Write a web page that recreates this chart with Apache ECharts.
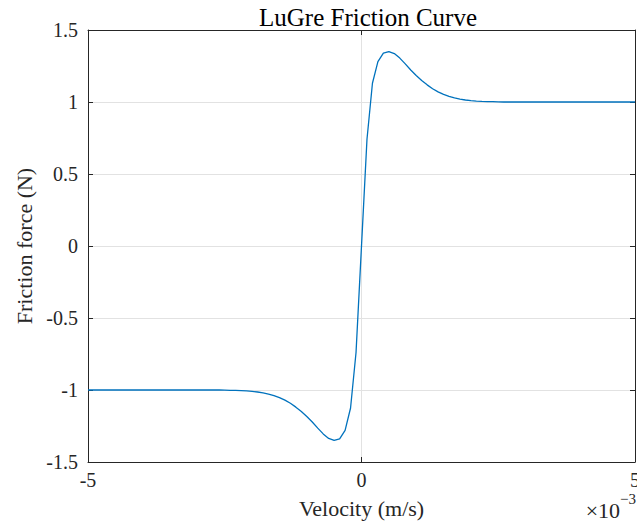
<!DOCTYPE html>
<html><head><meta charset="utf-8">
<script src="https://cdn.jsdelivr.net/npm/echarts@6/dist/echarts.min.js"></script>
<style>html,body{margin:0;padding:0;background:#fff}#c{width:637px;height:527px}</style>
</head><body><div id="c"></div>
<script>
// Velocity in units of 1e-3 m/s
const velocity = [-5,-4.9,-4.8,-4.7,-4.6,-4.5,-4.4,-4.3,-4.2,-4.1,-4,-3.9,-3.8,-3.7,-3.6,-3.5,-3.4,-3.3,-3.2,-3.1,-3,-2.9,-2.8,-2.7,-2.6,
  -2.5,-2.4,-2.3,-2.2,-2.1,-2,-1.9,-1.8,-1.7,-1.6,-1.5,-1.4,-1.3,-1.2,-1.1,-1,-0.9,-0.8,-0.7,-0.6,-0.5,-0.4,-0.3,-0.2,-0.1,
  0,
  0.1,0.2,0.3,0.4,0.5,0.6,0.7,0.8,0.9,1,1.1,1.2,1.3,1.4,1.5,1.6,1.7,1.8,1.9,2,2.1,2.2,2.3,2.4,2.5,
  2.6,2.7,2.8,2.9,3,3.1,3.2,3.3,3.4,3.5,3.6,3.7,3.8,3.9,4,4.1,4.2,4.3,4.4,4.5,4.6,4.7,4.8,4.9,5];
// Friction force (N)
const force = [-1,-1,-1,-1,-1,-1,-1,-1,-1,-1,-1,-1,-1,-1,-1,-1,-1,-1,-1,-1,-1,-1,-1,-1,-1,
  -1.001,-1.002,-1.003,-1.004,-1.006,-1.009,-1.014,-1.020,-1.028,-1.039,-1.053,-1.070,-1.092,-1.119,-1.149,-1.184,-1.222,-1.265,-1.305,-1.336,-1.350,-1.340,-1.280,-1.125,-0.740,
  0,
  0.740,1.130,1.280,1.340,1.350,1.336,1.305,1.265,1.222,1.184,1.149,1.119,1.092,1.070,1.053,1.039,1.028,1.020,1.014,1.009,1.006,1.004,1.003,1.002,1.001,
  1,1,1,1,1,1,1,1,1,1,1,1,1,1,1,1,1,1,1,1,1,1,1,1,1];
const xTickLabels = ['-5', '0', '5'];
const yTickLabels = ['-1.5', '-1', '-0.5', '0', '0.5', '1', '1.5'];

const FONT = 'Liberation Serif';
const AX = '#262626';
const GRID = '#e2e2e2';
const chart = echarts.init(document.getElementById('c'), null, {renderer: 'svg'});
const boxAxisX = (pos) => ({
  type: 'value', position: pos, min: -5, max: 5, interval: 5,
  axisLine: {show: true, onZero: false, lineStyle: {color: AX, width: 1}},
  axisTick: {show: true, inside: true, length: 5, lineStyle: {color: AX}},
  axisLabel: {show: false}, splitLine: {show: false}
});
const boxAxisY = (pos) => ({
  type: 'value', position: pos, min: -1.5, max: 1.5, interval: 0.5,
  axisLine: {show: true, onZero: false, lineStyle: {color: AX, width: 1}},
  axisTick: {show: true, inside: true, length: 5, lineStyle: {color: AX}},
  axisLabel: {show: false}, splitLine: {show: false}
});
const xMain = Object.assign(boxAxisX('bottom'), {
  name: 'Velocity (m/s)', nameLocation: 'middle', nameGap: 35,
  nameTextStyle: {fontFamily: FONT, fontSize: 22, color: AX},
  axisLabel: {show: true, margin: 8, fontFamily: FONT, fontSize: 20, color: AX,
    formatter: (v) => xTickLabels[Math.round((v + 5) / 5)]},
  splitLine: {show: true, lineStyle: {color: GRID, width: 1}}
});
const yMain = Object.assign(boxAxisY('left'), {
  name: 'Friction force (N)', nameLocation: 'middle', nameGap: 52,
  nameTextStyle: {fontFamily: FONT, fontSize: 22, color: AX},
  axisLabel: {show: true, margin: 10, fontFamily: FONT, fontSize: 20, color: AX,
    formatter: (v) => yTickLabels[Math.round((v + 1.5) / 0.5)]},
  splitLine: {show: true, lineStyle: {color: GRID, width: 1}}
});
chart.setOption({
  backgroundColor: '#fff',
  animation: false,
  title: {text: 'LuGre Friction Curve', left: 254, top: 0,
    textStyle: {fontFamily: FONT, fontSize: 25, fontWeight: 'normal', color: '#000'}},
  grid: {left: 88, top: 30, width: 547, height: 432, containLabel: false, outerBoundsMode: 'none'},
  xAxis: [xMain, boxAxisX('top')],
  yAxis: [yMain, boxAxisY('right')],
  graphic: [{
    type: 'text', right: 1, top: 491,
    style: {text: '{a|×10}{b|−3}', rich: {
      a: {fontFamily: FONT, fontSize: 22, fill: AX, verticalAlign: 'bottom', padding: [8, 0, 0, 0]},
      b: {fontFamily: FONT, fontSize: 15, fill: AX, verticalAlign: 'top'}
    }}
  }],
  series: [{
    type: 'line', xAxisIndex: 0, yAxisIndex: 0,
    data: velocity.map((v, i) => [v, force[i]]),
    showSymbol: false, symbol: 'none', smooth: false,
    lineStyle: {color: '#0072BD', width: 1.3}
  }]
});
</script></body></html>
